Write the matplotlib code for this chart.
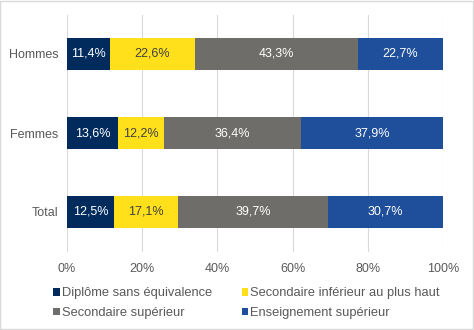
import numpy as np
import matplotlib.pyplot as plt
from matplotlib.patches import Rectangle

plt.rcParams['font.family'] = ['Liberation Sans', 'DejaVu Sans']

groups = ['Hommes', 'Femmes', 'Total']
series = ['Diplôme sans équivalence', 'Secondaire inférieur au plus haut',
          'Secondaire supérieur', 'Enseignement supérieur']
values = [
    [11.4, 13.6, 12.5],
    [22.6, 12.2, 17.1],
    [43.3, 36.4, 39.7],
    [22.7, 37.9, 30.7],
]
colors = ['#002B5C', '#FFE01B', '#6E6D69', '#1F4E9B']
text_colors = ['white', '#404040', 'white', 'white']

fig = plt.figure(figsize=(4.74, 3.30), dpi=100)
ax = fig.add_axes([67 / 474, 1 - 251.5 / 330, 376 / 474, 237 / 330])

y = np.arange(len(groups))
left = np.zeros(len(groups))
for vals, col, tc, name in zip(values, colors, text_colors, series):
    vals = np.array(vals)
    ax.barh(y, vals, left=left, height=0.405, color=col, label=name, zorder=2)
    for yi, l, v in zip(y, left, vals):
        ax.text(l + v / 2, yi, f'{v:.1f}%'.replace('.', ','), ha='center', va='center',
                color=tc, fontsize=9)
    left += vals

ax.set_xlim(0, 100)
ax.set_ylim(2.5, -0.5)
ax.set_xticks(np.arange(0, 101, 20))
ax.set_xticklabels([f'{t}%' for t in range(0, 101, 20)])
ax.set_yticks(y)
ax.set_yticklabels(groups)
ax.tick_params(length=0, labelsize=9, labelcolor='#595959')
ax.tick_params(axis='x', pad=8)
ax.tick_params(axis='y', pad=6)
ax.grid(axis='x', color='#D9D9D9', linewidth=0.8, zorder=0)
for s in ax.spines.values():
    s.set_visible(False)

# legend reads row by row, matplotlib fills columns first
handles, labels = ax.get_legend_handles_labels()
order = [0, 2, 1, 3]
fig.legend([handles[i] for i in order], [labels[i] for i in order],
           loc='upper left', bbox_to_anchor=(47 / 474, 1 - 281 / 330),
           ncol=2, frameon=False, fontsize=9.3, labelcolor='#595959',
           handlelength=0.5, handleheight=0.5, handletextpad=0.15,
           columnspacing=2.3, labelspacing=0.6, borderpad=0)

fig.patches.append(Rectangle((0.001, 0.002), 0.997, 0.996, transform=fig.transFigure,
                             fill=False, edgecolor='#D9D9D9', linewidth=1))

fig.savefig('out.png', dpi=100)
